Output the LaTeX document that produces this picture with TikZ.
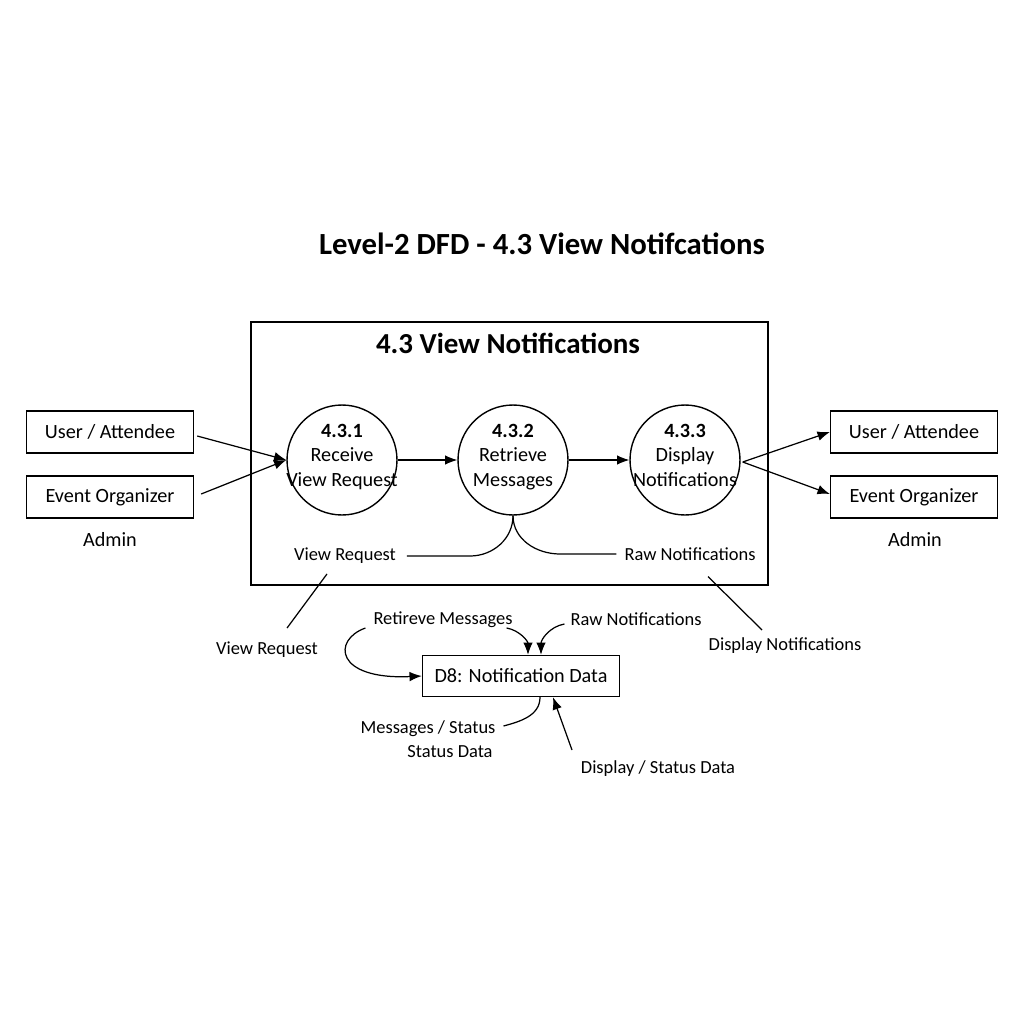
\documentclass[tikz,border=0pt]{standalone}
\usepackage{fontspec}
\setmainfont{Carlito}
\usetikzlibrary{%
  arrows.meta,%
  calc,%
  positioning%
}
\tikzset{>={Latex[length=7pt,width=5.5pt]}}
\tikzset{
  entity/.style={draw,line width=0.8pt,minimum width=3.34cm,minimum height=0.84cm,
    font=\fontsize{11.5}{13}\selectfont},
  proc/.style={draw,circle,line width=0.8pt,minimum size=2.2cm,inner sep=0pt},
  proctext/.style={align=center,inner sep=0pt,anchor=north,
    font=\fontsize{11.5}{13.8}\selectfont},
  flowlbl/.style={font=\fontsize{10.5}{12.5}\selectfont,inner sep=1pt,align=center},
  flow/.style={line width=0.7pt}
}

\begin{document}
\begin{tikzpicture}[x=0.02cm,y=-0.02cm]
    \useasboundingbox (0,0) rectangle (1024,1024);
    % titles and process border
    \node[font=\bfseries\fontsize{17.5}{20}\selectfont] (title) at (542,244)
    {Level-2 DFD - 4.3 View Notifcations};
    \draw[line width=0.8pt] (251,322) rectangle (768,585);
    \node[font=\bfseries\fontsize{16.5}{19}\selectfont] (boxtitle) at (508,343)
    {4.3 View Notifications};
    % processes
    \node[proc] (p1) at (342,460) {};
    \node[proc] (p2) at (513,460) {};
    \node[proc] (p3) at (685,460) {};
    \node[proctext] (p1txt) at ($(p1.center)+(0,-36)$) {\textbf{4.3.1}\\Receive\\View Request};
    \node[proctext] (p2txt) at ($(p2.center)+(0,-36)$) {\textbf{4.3.2}\\Retrieve\\Messages};
    \node[proctext] (p3txt) at ($(p3.center)+(0,-36)$) {\textbf{4.3.3}\\Display\\Notifications};
    % external entities
    \node[entity] (ua1) at (110,432) {User / Attendee};
    \node[entity] (eo1) at (110,497) {Event Organizer};
    \node[font=\fontsize{11.5}{13}\selectfont] (ad1) at (110,540) {Admin};
    \node[entity] (ua2) at (914,432) {User / Attendee};
    \node[entity] (eo2) at (914,497) {Event Organizer};
    \node[font=\fontsize{11.5}{13}\selectfont] (ad2) at (915,540) {Admin};
    % data store
    \node[entity,minimum width=3.94cm,minimum height=0.82cm] (d8) at (521,676)
    {D8: Notification Data};
    % flow labels
    \node[flowlbl] (vrin) at (345,556) {View Request};
    \node[flowlbl] (rnin) at (690,554) {Raw Notifications};
    \node[flowlbl] (vrout) at (267,650) {View Request};
    \node[flowlbl] (dnout) at (785,646) {Display Notifications};
    \node[flowlbl] (rmlab) at (443,620) {Retireve Messages};
    \node[flowlbl] (rnlab) at (636,619) {Raw Notifications};
    \node[flowlbl] (mslab) at (428,729) {Messages / Status};
    \node[flowlbl] (sdlab) at (450,752) {Status Data};
    \node[flowlbl] (dslab) at (658,769) {Display / Status Data};
    % flows
    \draw[flow,->] ($(ua1.east)+(3,4)$) -- (p1.west);
    \draw[flow,->] ($(eo1.east)+(7,-3)$) -- (p1.west);
    \draw[flow,->] (p1) -- (p2);
    \draw[flow,->] (p2) -- (p3);
    \draw[flow,->] ($(p3.east)+(2,2)$) -- ($(ua2.west)+(0,0)$);
    \draw[flow,->] ($(p3.east)+(2,2)$) -- ($(eo2.west)+(0,-3)$);
    \draw[flow] (p2.south) to[out=-90,in=0] (470,556) -- ($(vrin.east)+(9,0)$);
    \draw[flow] (p2.south) to[out=-90,in=180] (560,554) -- ($(rnin.west)+(-6,0)$);
    \draw[flow] ($(vrin.south)+(-18,8)$) -- ($(vrout.north)+(20,-12)$);
    \draw[flow] ($(rnin.south)+(18,14)$) -- ($(dnout.north)+(-23,-6)$);
    \draw[flow,->] ($(rmlab.west)+(-6,8)$) .. controls (332,640) and (335,680) ..
    (d8.west);
    \draw[flow,->] ($(rmlab.east)+(-8,8)$) to[out=-10,in=90] ($(d8.north)+(7,0)$);
    \draw[flow,->] ($(rnlab.west)+(-4,5)$) to[out=190,in=90] ($(d8.north)+(20,0)$);
    \draw[flow] ($(d8.south)+(19,0)$) to[out=-90,in=15] ($(mslab.east)+(6,-3)$);
    \draw[flow,->] ($(dslab.north)+(-86,-9)$) -- ($(d8.south)+(32,0)$);
\end{tikzpicture}
\end{document}
